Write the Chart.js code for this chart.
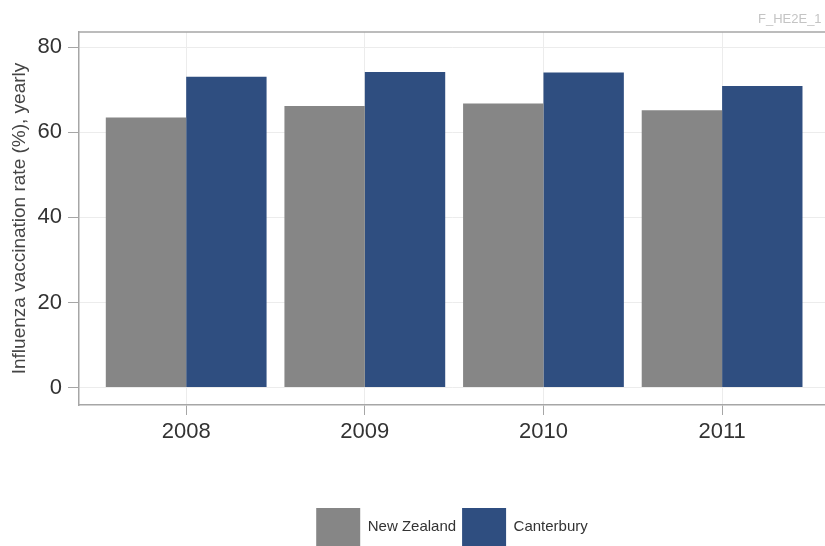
<!DOCTYPE html>
<html><head><meta charset="utf-8">
<script src="https://cdn.jsdelivr.net/npm/chart.js@4"></script>
<style>html,body{margin:0;padding:0;background:#fff;overflow:hidden}#wrap{width:825px;height:546px;position:relative}</style>
</head><body><div id="wrap"><canvas id="c" width="825" height="546"></canvas></div>
<script>
const categories = ['2008', '2009', '2010', '2011'];
const newZealand = [63.5, 66.2, 66.8, 65.2];
const canterbury = [73.1, 74.2, 74.1, 70.9];
const yTicks = [0, 20, 40, 60, 80];
const seriesNames = ['New Zealand', 'Canterbury'];
const yTitle = 'Influenza vaccination rate (%), yearly';
const watermark = 'F_HE2E_1';

const FONT = '"Liberation Sans", Arial, sans-serif';

const framePlugin = {
  id: 'frame',
  afterDatasetsDraw(chart) {
    const {ctx, chartArea} = chart;
    ctx.save();
    ctx.strokeStyle = '#a6a6a6';
    ctx.lineWidth = 1.5;
    ctx.beginPath();
    ctx.moveTo(chartArea.left, chartArea.top);
    ctx.lineTo(chartArea.right + 5, chartArea.top);
    ctx.stroke();
    ctx.restore();
  },
  afterDraw(chart) {
    const {ctx} = chart;
    ctx.save();
    ctx.fillStyle = '#c4c4c4';
    ctx.font = '13px ' + FONT;
    ctx.textBaseline = 'middle';
    ctx.fillText(watermark, 758, 19);
    ctx.restore();
  }
};

new Chart(document.getElementById('c'), {
  type: 'bar',
  data: {
    datasets: [
      { label: seriesNames[0], data: newZealand.map((v, i) => ({x: i, y: v})), backgroundColor: '#868686', borderWidth: 0 },
      { label: seriesNames[1], data: canterbury.map((v, i) => ({x: i, y: v})), backgroundColor: '#2f4e80', borderWidth: 0 }
    ]
  },
  options: {
    responsive: false,
    animation: false,
    layout: { padding: { top: 32, left: 0, right: 0, bottom: -10 } },
    categoryPercentage: 0.9,
    barPercentage: 1.0,
    scales: {
      x: {
        type: 'linear',
        offset: false,
        min: -0.6,
        max: 3.576,
        afterBuildTicks(s) { s.ticks = categories.map((c, i) => ({value: i})); },
        afterFit(s) { s.height = 97; },
        ticks: {
          callback: (v) => categories[v],
          font: { family: FONT, size: 22 },
          color: '#333',
          padding: 4,
          maxRotation: 0,
          autoSkip: false
        },
        grid: { offset: false, color: '#ececec', tickColor: '#a6a6a6', tickLength: 10, lineWidth: 1 },
        border: { color: '#a6a6a6', width: 1.5 }
      },
      y: {
        min: -4.1,
        max: 83.6,
        afterBuildTicks(s) { s.ticks = yTicks.map(v => ({value: v})); },
        afterFit(s) { s.width = 79; },
        ticks: {
          font: { family: FONT, size: 22 },
          color: '#333',
          padding: 6
        },
        grid: { color: '#ececec', tickColor: '#a6a6a6', tickLength: 11, lineWidth: 1 },
        border: { color: '#a6a6a6', width: 1.5 }
        ,
        title: {
          display: true,
          text: yTitle,
          font: { family: FONT, size: 19 },
          color: '#444',
          padding: { top: 8, bottom: 0 }
        }
      }
    },
    plugins: {
      legend: {
        position: 'bottom',
        fullSize: false,
        labels: {
          boxWidth: 44,
          boxHeight: 38,
          padding: 6,
          font: { family: FONT, size: 15 },
          color: '#333'
        }
      },
      tooltip: { enabled: false }
    }
  },
  plugins: [framePlugin]
});
</script></body></html>
